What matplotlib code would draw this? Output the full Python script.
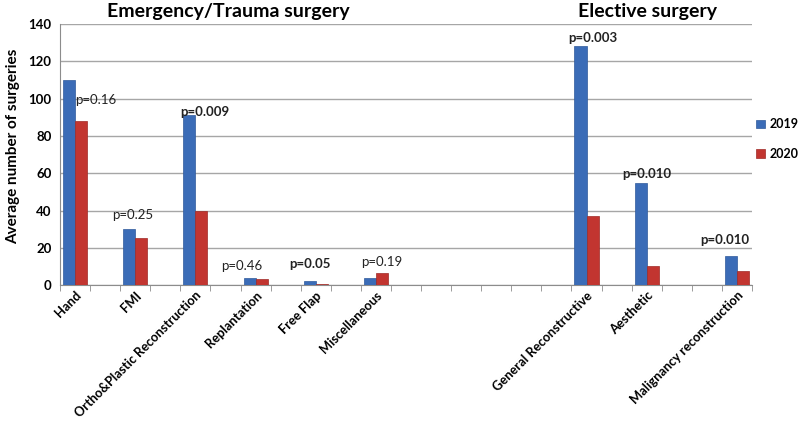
import numpy as np
import matplotlib.pyplot as plt

plt.rcParams['font.family'] = ['Lato', 'DejaVu Sans']

# categories as in the original sheet (blank rows between groups)
categories = ['Hand', '', 'FMI', '', 'Ortho&Plastic Reconstruction', '', 'Replantation', '',
              'Free Flap', '', 'Miscellaneous', '', '', '', '', '', '', 'General Reconstructive',
              '', 'Aesthetic', '', '', 'Malignancy reconstruction']
nan = np.nan
y2019 = [110, nan, 30, nan, 91, nan, 4, nan, 2, nan, 4, nan, nan, nan, nan, nan, nan, 128,
         nan, 55, nan, nan, 15.5]
y2020 = [88, nan, 25, nan, 40, nan, 3.5, nan, 0.5, nan, 6.5, nan, nan, nan, nan, nan, nan, 37,
         nan, 10.5, nan, nan, 7.5]
pvals = ['p=0.16', '', 'p=0.25', '', 'p=0.009', '', 'p=0.46', '', 'p=0.05', '', 'p=0.19',
         '', '', '', '', '', '', 'p=0.003', '', 'p=0.010', '', '', 'p=0.010']
pbold = [False, False, False, False, True, False, False, False, True, False, False,
         False, False, False, False, False, False, True, False, True, False, False, True]

# placement of p labels (dx in slots, dy in units above the taller bar)
pdx = {0: 0.7, 2: -0.1, 4: 0.3, 6: -0.45, 8: -0.2, 10: 0.2, 17: 0.2, 19: 0.0, 22: -0.4}
pdy = {0: -10.5, 2: 7.5, 4: 2, 6: 6.5, 8: 9.3, 10: 6, 17: 4.7, 19: 4.6, 22: 8.7}

blue = '#3B6CB7'
red = '#C23530'

fig = plt.figure(figsize=(8, 4.23), dpi=100)
ax = fig.add_axes([0.075, 0.326, 0.865, 0.617])

x = np.arange(len(categories))
w = 0.4
ax.bar(x - w / 2, y2019, w, color=blue, edgecolor='#2F5A9C', linewidth=0.5, label='2019', zorder=3)
ax.bar(x + w / 2, y2020, w, color=red, edgecolor='#9E2A26', linewidth=0.5, label='2020', zorder=3)

for i, p in enumerate(pvals):
    if not p:
        continue
    top = np.nanmax([y2019[i], y2020[i]])
    ax.text(i + pdx[i], top + pdy[i], p, ha='center', va='center', fontsize=9.5,
            fontweight='bold' if pbold[i] else 'normal', color='#222222', zorder=4)

ax.set_xlim(-0.5, len(categories) - 0.5)
ax.set_ylim(0, 140)
ax.set_yticks(np.arange(0, 141, 20))
ax.yaxis.grid(True, color='#A6A6A6', linewidth=1, zorder=0)
ax.set_axisbelow(True)
ax.tick_params(axis='y', length=0, labelsize=9.5, pad=6)
for t in ax.get_yticklabels():
    t.set_fontweight('bold')

ax.set_xticks(x)
ax.set_xticklabels(categories, rotation=45, ha='right', rotation_mode='anchor',
                   fontsize=9.3, fontweight='bold')
ax.tick_params(axis='x', which='major', length=0, pad=3)
ax.set_xticks(np.arange(-0.5, len(categories), 1), minor=True)
ax.tick_params(axis='x', which='minor', length=4, color='#8C8C8C', direction='out')

for s in ['top', 'right']:
    ax.spines[s].set_visible(False)
ax.spines['left'].set_color('#8C8C8C')
ax.spines['bottom'].set_color('#8C8C8C')

ax.set_ylabel('Average number of surgeries', fontsize=11, fontweight='bold')
ax.yaxis.set_label_coords(-0.058, 0.53)

fig.text(228 / 800, 1 - 12 / 423, 'Emergency/Trauma surgery', ha='center', va='center',
         fontsize=14, fontweight='bold')
fig.text(647 / 800, 1 - 12 / 423, 'Elective surgery', ha='center', va='center',
         fontsize=14, fontweight='bold')

fig.legend(loc='upper left', bbox_to_anchor=(0.945, 0.72), frameon=False,
           prop={'weight': 'bold', 'size': 9}, handlelength=0.7, handleheight=0.7,
           handletextpad=0.4, labelspacing=1.4, borderaxespad=0, borderpad=0)

fig.savefig('out.png', dpi=100)
